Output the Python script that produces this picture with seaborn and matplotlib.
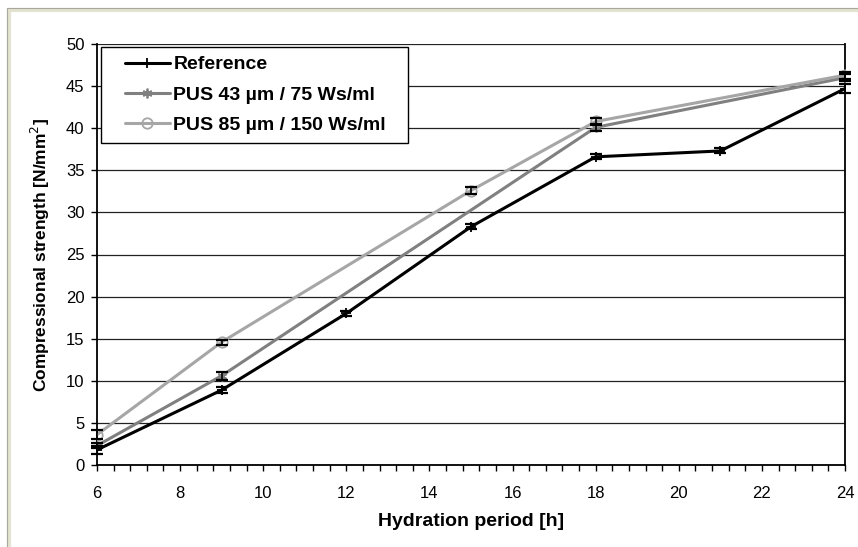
import matplotlib

matplotlib.use("Agg")
import matplotlib.pyplot as plt
import pandas as pd
import seaborn as sns
from matplotlib.legend_handler import HandlerLine2D
from matplotlib.lines import Line2D
from matplotlib.patches import Rectangle
from matplotlib.ticker import MultipleLocator

# --- Data -------------------------------------------------------------------
SERIES = ["Reference", "PUS 43 µm / 75 Ws/ml", "PUS 85 µm / 150 Ws/ml"]

ref_hours = [6, 9, 12, 15, 18, 21, 24]
ref_strength = [1.8, 8.9, 18.0, 28.3, 36.6, 37.3, 44.7]
ref_err = [0.5, 0.4, 0.3, 0.3, 0.3, 0.3, 0.5]

pus43_hours = [6, 9, 18, 24]
pus43_strength = [2.3, 10.6, 40.1, 46.0]
pus43_err = [0.3, 0.5, 0.4, 0.4]

pus85_hours = [6, 9, 15, 18, 24]
pus85_strength = [3.6, 14.6, 32.6, 40.8, 46.3]
pus85_err = [0.5, 0.3, 0.4, 0.4, 0.4]

COLORS = ["#000000", "#808080", "#a6a6a6"]
MARKERS = ["+", (6, 2, 0), "o"]
MSIZES = [7, 7, 7.5]
ZORDERS = [5, 3, 3]


def main() -> None:
    frames = [
        pd.DataFrame({"hours": ref_hours, "strength": ref_strength, "err": ref_err}),
        pd.DataFrame({"hours": pus43_hours, "strength": pus43_strength, "err": pus43_err}),
        pd.DataFrame({"hours": pus85_hours, "strength": pus85_strength, "err": pus85_err}),
    ]

    sns.set_style("white")
    plt.rcParams["font.family"] = ["Liberation Sans", "DejaVu Sans"]
    plt.rcParams["text.color"] = "black"
    plt.rcParams["axes.labelcolor"] = "black"
    plt.rcParams["xtick.color"] = "black"
    plt.rcParams["ytick.color"] = "black"

    fig = plt.figure(figsize=(8.58, 5.47), dpi=100)
    # window-like frame: open to the right and bottom, like the screenshot
    fig.patches.append(Rectangle((9 / 858, -0.05), 1.1, 1.05 - 10 / 547,
                                 transform=fig.transFigure, fill=False,
                                 edgecolor="#e4e3d0", linewidth=3.0))
    fig.patches.append(Rectangle((7 / 858, -0.05), 1.1, 1.05 - 8 / 547,
                                 transform=fig.transFigure, fill=False,
                                 edgecolor="#a8a89c", linewidth=0.8))
    ax = fig.add_axes([97 / 858, 82 / 547, 748 / 858, 421 / 547])

    ax.yaxis.grid(True, color="#222222", linewidth=0.9)
    ax.set_axisbelow(True)

    for name, sub, color, marker, ms, z in zip(SERIES, frames, COLORS, MARKERS,
                                               MSIZES, ZORDERS):
        sns.lineplot(data=sub, x="hours", y="strength", color=color,
                     marker=marker, markersize=ms, markerfacecolor="none",
                     markeredgecolor=color, markeredgewidth=1.3,
                     linewidth=2.2, sort=False, estimator=None, label=name,
                     ax=ax, zorder=z)
        ax.errorbar(sub["hours"], sub["strength"], yerr=sub["err"], fmt="none",
                    ecolor="black", elinewidth=1.2, capsize=4.3, capthick=1.6,
                    zorder=6, clip_on=False)

    ax.set_xlim(6, 24)
    ax.set_ylim(0, 50)
    ax.xaxis.set_major_locator(MultipleLocator(2))
    ax.xaxis.set_minor_locator(MultipleLocator(0.4))
    ax.yaxis.set_major_locator(MultipleLocator(5))
    ax.tick_params(axis="both", which="major", direction="out", length=4,
                   width=1, labelsize=12, bottom=True, left=True)
    ax.tick_params(axis="x", which="both", length=4, width=1, bottom=True)
    ax.tick_params(axis="x", which="major", pad=11)
    ax.tick_params(axis="y", which="major", pad=5)

    for side in ["left", "bottom", "right"]:
        ax.spines[side].set_color("black")
        ax.spines[side].set_linewidth(1.3)
    ax.spines["top"].set_visible(False)

    ax.set_xlabel("Hydration period [h]", fontsize=14, fontweight="bold",
                  labelpad=9)
    ax.set_ylabel("Compressional strength [N/mm$^2$]", fontsize=12.5,
                  fontweight="bold", labelpad=10)

    leg = ax.legend(loc="upper left", bbox_to_anchor=(0.006, 0.0, 0.41, 0.993),
                    mode="expand", frameon=True, fancybox=False,
                    edgecolor="black", framealpha=1, handlelength=3.05,
                    handletextpad=0.2, borderaxespad=0, borderpad=0.45,
                    labelspacing=0.66,
                    handler_map={Line2D: HandlerLine2D(xpad=0.75)},
                    prop={"size": 14, "weight": "bold"})
    leg.get_frame().set_linewidth(1.0)

    fig.savefig("out.png", dpi=100)
    plt.close(fig)


if __name__ == "__main__":
    main()
